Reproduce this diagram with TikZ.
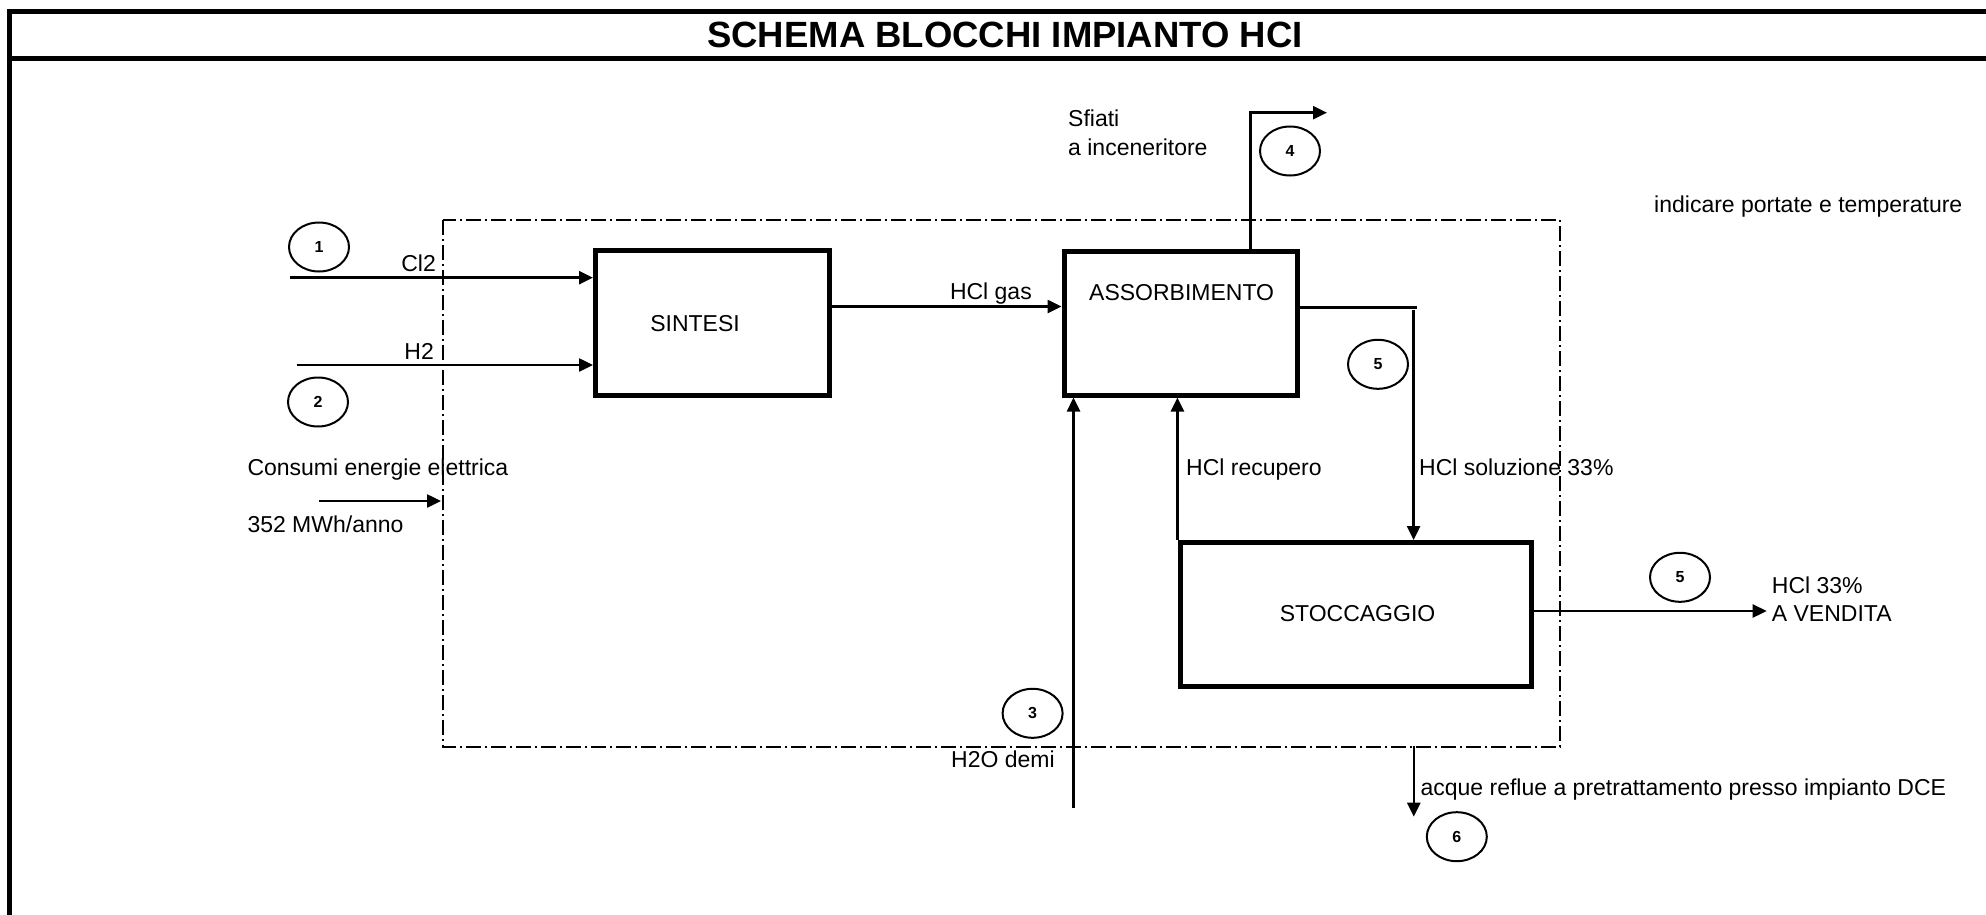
\documentclass[tikz,border=0pt]{standalone}
\usepackage{fontspec}
\setmainfont{Liberation Sans}
\usetikzlibrary{arrows.meta,shapes.geometric}
\begin{document}
\begin{tikzpicture}[x=1pt,y=-1pt,
  conn/.style={line width=2.5pt,-{Triangle[length=14pt,width=13pt]}},
  plainline/.style={line width=2.5pt},
  framebar/.style={line width=5pt},
  blockbox/.style={draw,line width=5pt,inner sep=0pt},
  tag/.style={draw,ellipse,line width=2pt,minimum width=60pt,minimum height=49pt,inner sep=0pt,font=\fontsize{16}{18}\selectfont\bfseries},
  lbl/.style={inner sep=0pt,font=\fontsize{23}{27}\selectfont},
  boundary/.style={line width=2pt,dash pattern=on 15pt off 4pt on 2pt off 4pt}]
\useasboundingbox (0,0) rectangle (1986,915);
% frame
\draw[framebar] (9.5,11.5) -- (1986,11.5);
\draw[framebar] (9.5,58.5) -- (1986,58.5);
\draw[framebar] (9.5,9) -- (9.5,915);
\node[inner sep=0pt,font=\fontsize{36.5}{40}\selectfont\bfseries] (title) at (1005,35) {SCHEMA BLOCCHI IMPIANTO HCI};
% boundary
\draw[boundary] (443,220) rectangle (1560,747);
% blocks
\node[blockbox,minimum width=234pt,minimum height=144.5pt] (sintesi) at (712.5,322.75) {};
\node[blockbox,minimum width=233pt,minimum height=143.5pt] (assorb) at (1180.5,323.25) {};
\node[blockbox,minimum width=351pt,minimum height=144pt] (stock) at (1356,614.5) {};
\node[lbl,anchor=base] (tsintesi) at (695,331) {SINTESI};
\node[lbl,anchor=base west] (tassorb) at (1089,300.7) {ASSORBIMENTO};
\node[lbl,anchor=base west] (tstock) at (1279.6,621.5) {STOCCAGGIO};
% free ends
\coordinate (clstart) at (290,277.7);
\coordinate (hstart) at (296.7,365);
\coordinate (elstart) at (319,501);
\coordinate (elend) at (441,501);
\coordinate (gasy) at (0,306.5);
\coordinate (ventbase) at (1250.7,251.5);
\coordinate (ventend) at (1327,112.7);
\coordinate (prodcorner) at (1416.7,307.7);
\coordinate (proddown) at (1413.6,310);
\coordinate (recx) at (1177.4,0);
\coordinate (h2ostart) at (1073.5,808);
\coordinate (outy) at (0,611);
\coordinate (outend) at (1766.7,611);
\coordinate (effstart) at (1413.8,746);
\coordinate (effend) at (1413.8,816.7);
% connectors
\draw[conn] (clstart) -- (clstart -| sintesi.west);
\draw[conn] (hstart) -- (hstart -| sintesi.west);
\draw[conn] (elstart) -- (elend);
\draw[conn] (gasy -| sintesi.east) -- (gasy -| assorb.west);
\draw[conn] (ventbase) |- (ventend);
\draw[plainline] (prodcorner -| assorb.east) -- (prodcorner);
\draw[conn] (proddown) -- (proddown |- stock.north);
\draw[conn] (recx |- stock.north) -- (recx |- assorb.south);
\draw[conn] (h2ostart) -- (h2ostart |- assorb.south);
\draw[conn] (outy -| stock.east) -- (outend);
\draw[conn] (effstart) -- (effend);
% labels
\node[lbl,anchor=base east] (lcl) at (436,271) {Cl2};
\node[lbl,anchor=base east] (lh) at (434,359) {H2};
\node[lbl,anchor=base east] (lgas) at (1032,299.5) {HCl gas};
\node[lbl,anchor=base west] (lsf1) at (1068,126.7) {Sfiati};
\node[lbl,anchor=base west] (lsf2) at (1068,155) {a inceneritore};
\node[lbl,anchor=base west] (lind) at (1654,212.3) {indicare portate e temperature};
\node[lbl,anchor=base west] (lcons) at (247.3,475.3) {Consumi energie elettrica};
\node[lbl,anchor=base west] (lmwh) at (247.3,532.7) {352 MWh/anno};
\node[lbl,anchor=base west] (lrec) at (1186,475) {HCl recupero};
\node[lbl,anchor=base west] (lsol) at (1419,475) {HCl soluzione 33\%};
\node[lbl,anchor=base west] (lv1) at (1771.7,593) {HCl 33\%};
\node[lbl,anchor=base west] (lv2) at (1771.7,621.7) {A VENDITA};
\node[lbl,anchor=base west] (lh2o) at (951,767) {H2O demi};
\node[lbl,anchor=base west] (leff) at (1420.4,795) {acque reflue a pretrattamento presso impianto DCE};
% stream tags
\node[tag] (t1) at (319,247) {1};
\node[tag] (t2) at (318,402) {2};
\node[tag] (t3) at (1032.6,713.3) {3};
\node[tag] (t4) at (1290,151) {4};
\node[tag] (t5a) at (1378,364.3) {5};
\node[tag] (t5b) at (1680,577.3) {5};
\node[tag] (t6) at (1456.8,836.7) {6};
\end{tikzpicture}
\end{document}
